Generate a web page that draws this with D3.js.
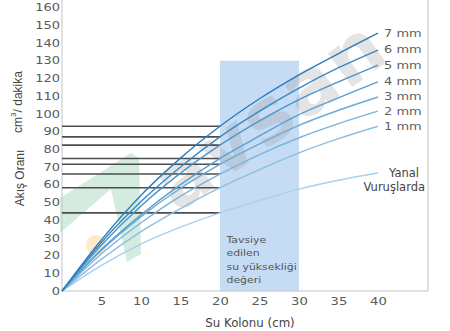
<!DOCTYPE html>
<html><head><meta charset="utf-8">
<script src="https://cdn.jsdelivr.net/npm/d3@7"></script>
<style>
html,body{margin:0;padding:0;background:#fff;}
svg{display:block;font-family:"DejaVu Sans",Verdana,sans-serif;}
</style></head>
<body><svg id="c" width="450" height="331"></svg>
<script>
// ---- data ----
const columnCm = [0, 5, 10, 15, 20, 25, 30, 35, 40];
const seriesNames = ["7 mm", "6 mm", "5 mm", "4 mm", "3 mm", "2 mm", "1 mm", "Yanal Vuruşlarda"];
const flow7 = [0, 29, 54, 75, 93, 108.5, 122, 134, 145.5];
const flow6 = [0, 27.5, 50.5, 70, 87, 101.5, 114.5, 126, 136];
const flow5 = [0, 26, 48, 66.5, 82.3, 96, 108, 118, 127.5];
const flow4 = [0, 23.5, 43, 60, 74.8, 87.5, 99.5, 109, 118];
const flow3 = [0, 23, 42, 58, 71.5, 83, 93.5, 102, 109.5];
const flow2 = [0, 21, 38.5, 53.5, 66, 77, 86.5, 94.5, 101.5];
const flow1 = [0, 18, 33.5, 46.5, 58.3, 68.5, 78, 86, 93];
const flowYanal = [0, 14.5, 26.5, 36, 44.1, 51, 57.5, 62.5, 66.6];
const xTicks = [5, 10, 15, 20, 25, 30, 35, 40];
const yTicks = [0, 10, 20, 30, 40, 50, 60, 70, 80, 90, 100, 110, 120, 130, 140, 150, 160];
const recommendedRange = [20, 30];
const recommendedTop = 130;
const referenceAt = 20;
const recommendedText = ["Tavsiye", "edilen", "su yüksekliği", "değeri"];

const allSeries = [flow7, flow6, flow5, flow4, flow3, flow2, flow1, flowYanal];
const colors = ["#2a7dbd", "#3889c4", "#4a95cb", "#5aa0d1", "#69aad6", "#79b4dc", "#8cbfe2", "#a9d0ec"];

// ---- layout ----
const svg = d3.select("#c");
const x = d3.scaleLinear().domain([0, 40]).range([62, 378]);
const y = d3.scaleLinear().domain([0, 160]).range([291, 7.5]);
const xRight = 428, yTopFrame = 0;

// watermark (decorative)
const wm = svg.append("g").attr("class", "watermark");
wm.append("polygon")
  .attr("points", "60,198 131,153 139,158 141,254 127,262 111,189 60,233")
  .attr("fill", "#cfeadc").attr("opacity", 0.9);
wm.append("circle").attr("cx", 96).attr("cy", 245).attr("r", 10)
  .attr("fill", "#fbe6c0").attr("opacity", 0.85);

// recommended band
svg.append("rect")
  .attr("x", x(recommendedRange[0])).attr("width", x(recommendedRange[1]) - x(recommendedRange[0]))
  .attr("y", y(recommendedTop)).attr("height", y(0) - y(recommendedTop))
  .attr("fill", "#c6dcf4");

svg.append("text")
  .attr("transform", "translate(270,114) rotate(-36)")
  .attr("text-anchor", "middle").attr("dominant-baseline", "central")
  .attr("font-size", 76).attr("font-weight", "bold").attr("letter-spacing", 3)
  .attr("fill", "#9a9a9a").attr("opacity", 0.26)
  .text("avsan");

// frame
svg.append("path")
  .attr("d", `M${x(0)},${yTopFrame}V${y(0)}H${xRight}V${yTopFrame}`)
  .attr("fill", "none").attr("stroke", "#c4c4c4").attr("stroke-width", 1);

// axes
const gx = svg.append("g").attr("transform", `translate(0,${y(0)})`)
  .call(d3.axisBottom(x).tickValues(xTicks).tickSize(0).tickPadding(9));
const gy = svg.append("g").attr("transform", `translate(${x(0)},0)`)
  .call(d3.axisLeft(y).tickValues(yTicks).tickSize(0).tickPadding(2));
[gx, gy].forEach(g => {
  g.select(".domain").remove();
  g.selectAll("text").attr("font-family", "DejaVu Sans").attr("font-size", 10).attr("fill", "#5a5a5a");
});
gx.selectAll(".tick text").attr("transform", "scale(1.32,1)").attr("dy", "0.55em");
gy.selectAll(".tick text").attr("transform", "scale(1.3,1)").attr("x", -1.5);

// reference lines at 20 cm
const idx = columnCm.indexOf(referenceAt);
svg.append("g").selectAll("line").data(allSeries).join("line")
  .attr("x1", x(0)).attr("x2", x(referenceAt))
  .attr("y1", d => y(d[idx])).attr("y2", d => y(d[idx]))
  .attr("stroke", "#4d4d4d").attr("stroke-width", 1.6);

// curves
const line = d3.line().x((d, i) => x(columnCm[i])).y(d => y(d)).curve(d3.curveMonotoneX);
svg.append("g").selectAll("path").data(allSeries.slice().reverse()).join("path")
  .attr("d", d => line(d))
  .attr("fill", "none")
  .attr("stroke", (d, i) => colors[allSeries.length - 1 - i])
  .attr("stroke-width", 1.4);

// series labels
const last = columnCm.length - 1;
allSeries.slice(0, 7).forEach((s, i) => {
  svg.append("text")
    .attr("transform", `translate(${x(40) + 6},${y(s[last])}) scale(1.3,1)`)
    .attr("dominant-baseline", "central")
    .attr("font-size", 10).attr("fill", "#5f5f5f")
    .text(seriesNames[i]);
});
const yn = seriesNames[7].split(" ");
svg.append("text").attr("x", 419).attr("y", y(flowYanal[last]))
  .attr("text-anchor", "end").attr("dominant-baseline", "central")
  .attr("font-size", 11.5).attr("fill", "#444").text(yn[0]);
svg.append("text").attr("x", 425).attr("y", y(flowYanal[last]) + 14)
  .attr("text-anchor", "end").attr("dominant-baseline", "central")
  .attr("font-size", 11.5).attr("fill", "#444").text(yn[1]);

// recommended text
recommendedText.forEach((t, i) => {
  svg.append("text")
    .attr("transform", `translate(${x(recommendedRange[0]) + 6.5},${240 + i * 13.3}) scale(1.28,1)`)
    .attr("dominant-baseline", "central")
    .attr("font-size", 8.5).attr("fill", "#555").text(t);
});

// axis titles
svg.append("text").attr("x", 250).attr("y", 323)
  .attr("text-anchor", "middle").attr("dominant-baseline", "central")
  .attr("font-size", 11.8).attr("fill", "#444").text("Su Kolonu (cm)");
svg.append("text")
  .attr("transform", "translate(20,178) rotate(-90)")
  .attr("text-anchor", "middle").attr("dominant-baseline", "central")
  .attr("font-family", "Liberation Sans").attr("font-size", 12).attr("fill", "#444").text("Akış Oranı");
const unit = svg.append("text")
  .attr("transform", "translate(18,102) rotate(-90)")
  .attr("text-anchor", "middle").attr("dominant-baseline", "central")
  .attr("font-family", "Liberation Sans").attr("font-size", 12).attr("fill", "#444");
unit.append("tspan").text("cm");
unit.append("tspan").attr("baseline-shift", "super").attr("font-size", 8).text("3");
unit.append("tspan").text("/ dakika");
</script></body></html>
